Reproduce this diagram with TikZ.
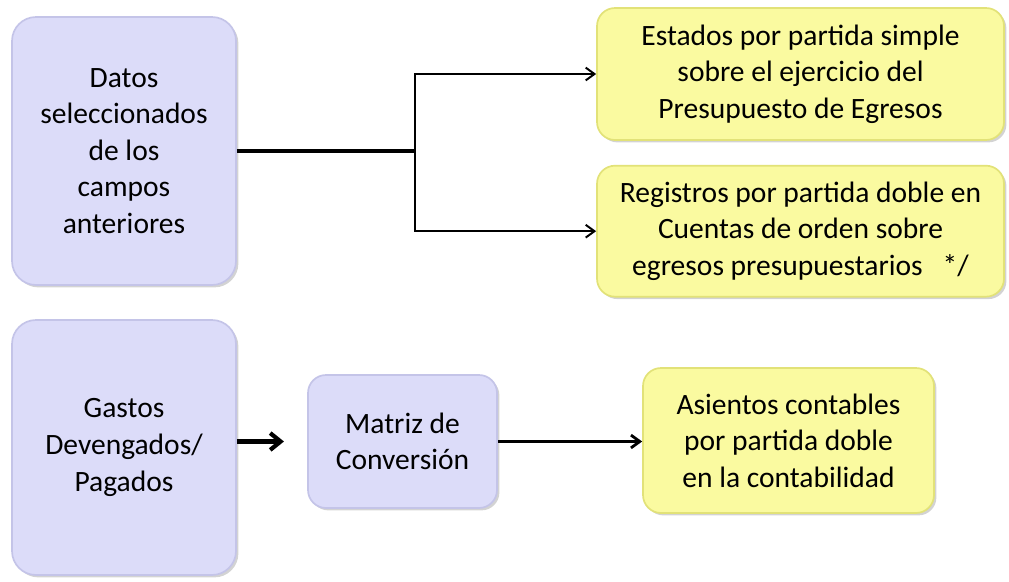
\documentclass[tikz,border=0pt]{standalone}
\usepackage{fontspec}
\setmainfont{Carlito}
\usepackage{tikz}
\usepackage{xcolor}
\usetikzlibrary{arrows.meta,calc,positioning,shadows}
\definecolor{lila}{RGB}{220,220,249}
\definecolor{lilaedge}{RGB}{196,196,232}
\definecolor{amarillo}{RGB}{250,250,160}
\definecolor{amarilloedge}{RGB}{226,226,120}
\tikzstyle{src}=[draw=lilaedge,line width=1.2pt,fill=lila,rounded corners=0.6cm,align=center,inner sep=0pt,
  drop shadow={shadow xshift=0.06cm,shadow yshift=-0.06cm,opacity=0.35}]
\tikzstyle{res}=[draw=amarilloedge,line width=1.2pt,fill=amarillo,rounded corners=0.45cm,align=center,inner sep=0pt,
  drop shadow={shadow xshift=0.06cm,shadow yshift=-0.06cm,opacity=0.35}]
\tikzstyle{txt}=[font=\fontsize{21}{26}\selectfont]

\begin{document}
\begin{tikzpicture}[
            >={Straight Barb[length=2.2mm,width=3.2mm]},
            auto
        ]
        \useasboundingbox (0,0) rectangle (25.225,-14.55);
        \node [src,txt,minimum width=5.6cm,minimum height=6.7cm] (dat) at (3.1,-3.775)
            {Datos\\seleccionados\\de los\\campos\\anteriores};
        \node [res,txt,minimum width=10.175cm,minimum height=3.3cm] (est) at (20.0125,-1.85)
            {Estados por partida simple\\sobre el ejercicio del\\Presupuesto de Egresos};
        \node [res,txt,minimum width=10.175cm,minimum height=3.275cm] (reg) [below=0.6cm of est]
            {Registros por partida doble en\\Cuentas de orden sobre\\egresos presupuestarios \ \ */};
        \node [src,txt,minimum width=5.6cm,minimum height=6.375cm] (gas) at (3.1,-11.1875)
            {Gastos\\Devengados/\\Pagados};
        \node [src,txt,minimum width=4.725cm,minimum height=3.325cm,rounded corners=0.45cm] (mat) at (10.0625,-11.0375)
            {Matriz de\\Conversión};
        \node [res,txt,minimum width=7.275cm,minimum height=3.625cm] (asi) at (19.7125,-11.0125)
            {Asientos contables\\por partida doble\\en la contabilidad};
        \coordinate (tr) at (10.375,0 |- dat.east);
        \draw[line width=2.2pt] (dat.east) -- (tr);
        \draw[->,line width=1.4pt] (tr) |- (est.west);
        \draw[->,line width=1.4pt] (tr) |- (reg.west);
        \draw[-{Straight Barb[length=2.6mm,width=4.2mm]},line width=3pt,shorten >=0.58cm] (gas.east |- mat.west) -- (mat.west);
        \draw[->,line width=2pt] (mat.east) -- (mat.east -| asi.west);
    \end{tikzpicture}
\end{document}
